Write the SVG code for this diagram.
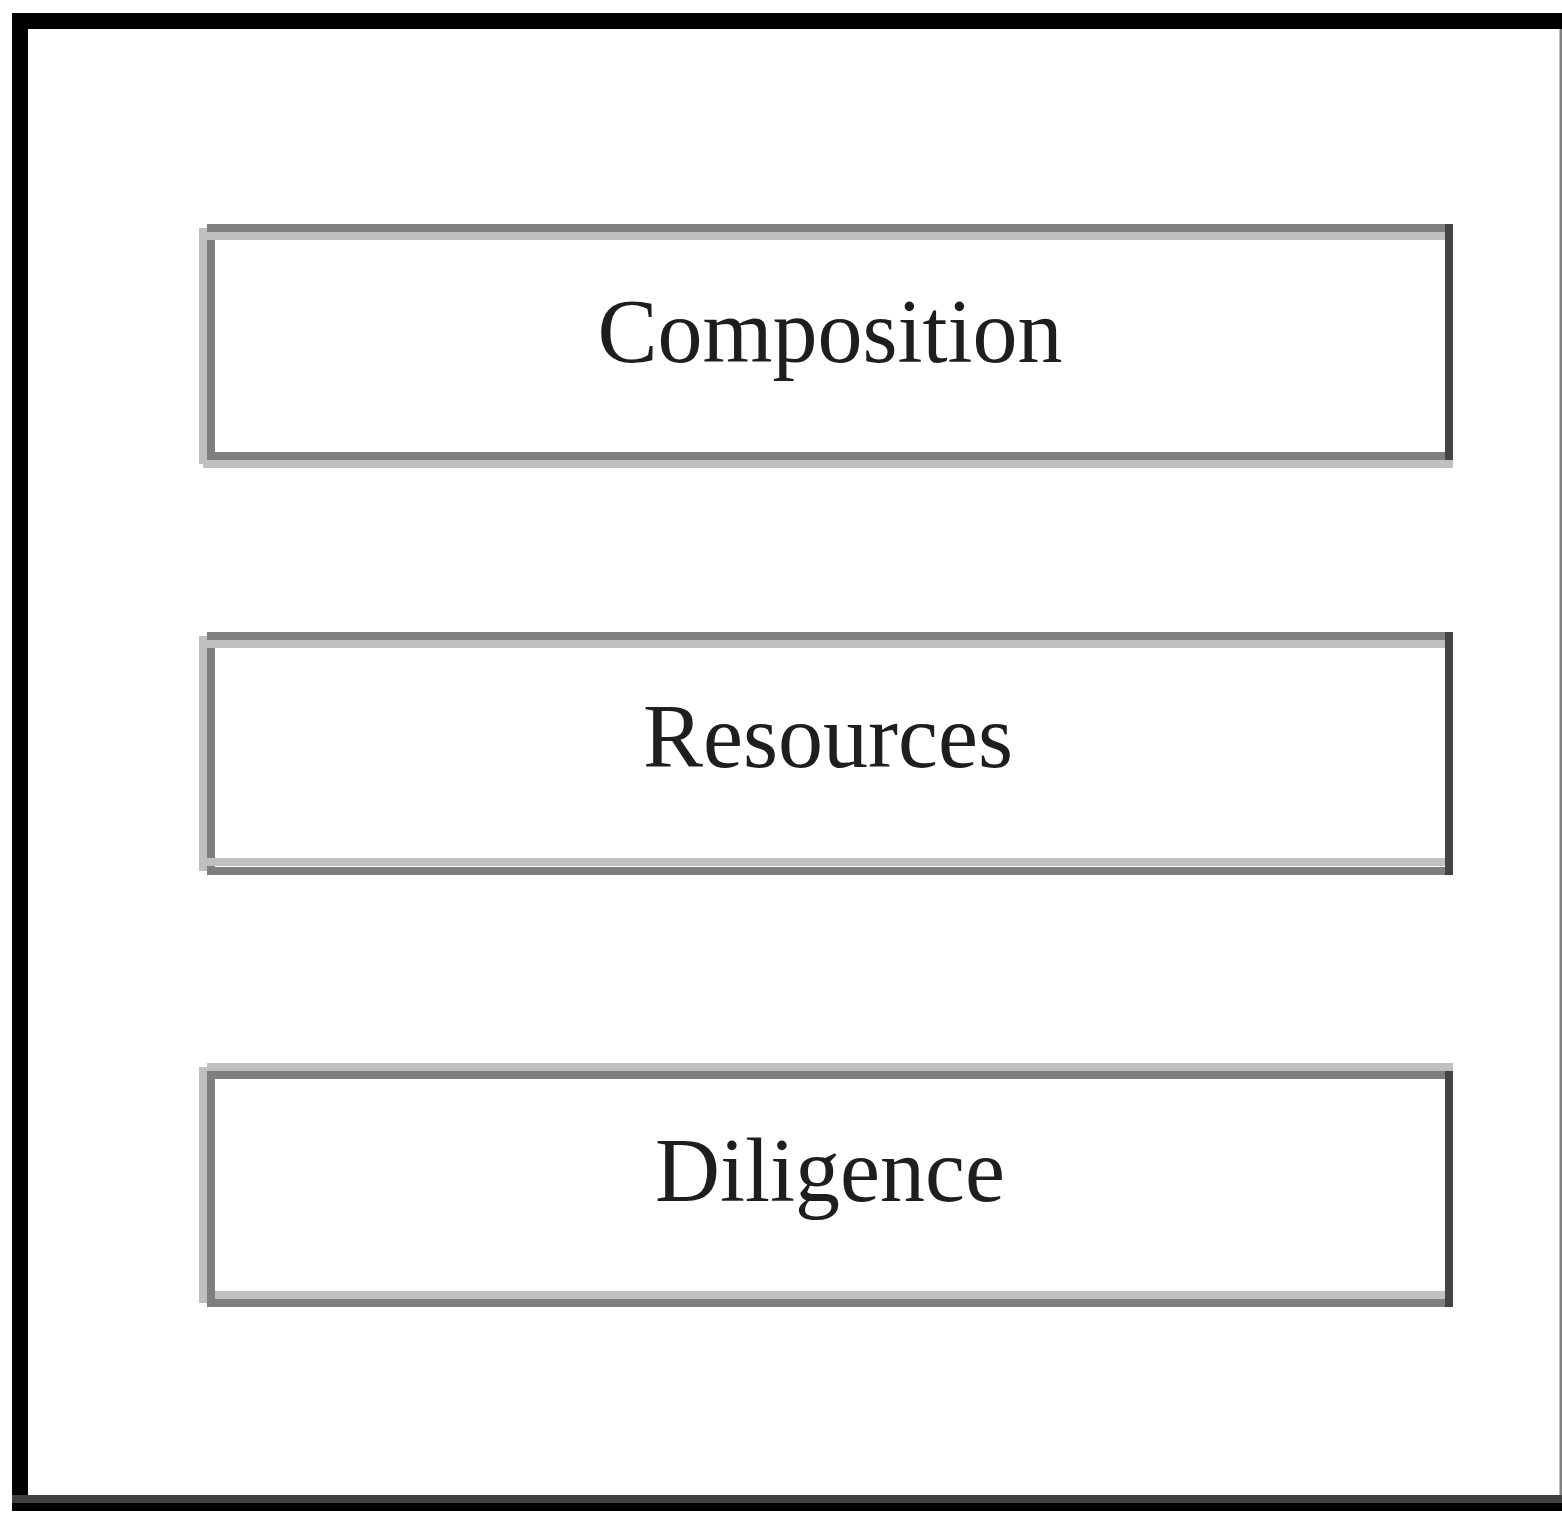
<svg xmlns="http://www.w3.org/2000/svg" width="1562" height="1513" viewBox="0 0 1562 1513">
  <style>
    .frame { stroke: #000; stroke-width: 16; fill: none; }
    .box { fill: #fff; stroke: #7f7f7f; stroke-width: 8; }
    .hl { stroke: #c0c0c0; stroke-width: 8; fill: none; }
    .rt { stroke: #444; stroke-width: 8; fill: none; }
    .lbl { font-family: "Liberation Serif", "Times New Roman", serif; font-size: 90px; fill: #1e1e1e; text-anchor: middle; }
  </style>
  <rect x="0" y="0" width="1562" height="1513" fill="#fff"/>
  <g id="frame">
    <line class="frame" x1="20" y1="13" x2="20" y2="1511"/>
    <line class="frame" x1="12" y1="21" x2="1562" y2="21"/>
    <line x1="12" y1="1499" x2="1562" y2="1499" stroke="#404040" stroke-width="8"/>
    <line x1="12" y1="1507" x2="1562" y2="1507" stroke="#000" stroke-width="8"/>
    <line x1="1561" y1="29" x2="1561" y2="1495" stroke="#808080" stroke-width="3"/>
  </g>
  <g id="node-composition">
    <rect class="box" x="211" y="228" width="1238" height="228"/>
    <line class="hl" x1="207" y1="236" x2="1453" y2="236"/>
    <line class="hl" x1="203" y1="464" x2="1453" y2="464"/>
    <line class="hl" x1="203" y1="228" x2="203" y2="464"/>
    <line class="rt" x1="1449" y1="224" x2="1449" y2="460"/>
    <text class="lbl" x="830" y="362">Composition</text>
  </g>
  <g id="node-resources">
    <rect class="box" x="211" y="636" width="1238" height="235"/>
    <line class="hl" x1="207" y1="644" x2="1453" y2="644"/>
    <line class="hl" x1="207" y1="862" x2="1445" y2="862"/>
    <line class="hl" x1="203" y1="636" x2="203" y2="871"/>
    <line class="rt" x1="1449" y1="632" x2="1449" y2="875"/>
    <text class="lbl" x="828" y="767">Resources</text>
  </g>
  <g id="node-diligence">
    <rect class="box" x="211" y="1075" width="1238" height="228"/>
    <line class="hl" x1="207" y1="1067" x2="1453" y2="1067"/>
    <line class="hl" x1="215" y1="1295" x2="1445" y2="1295"/>
    <line class="hl" x1="203" y1="1067" x2="203" y2="1303"/>
    <line class="rt" x1="1449" y1="1071" x2="1449" y2="1307"/>
    <text class="lbl" x="830" y="1201">Diligence</text>
  </g>
  <g id="connectors"></g>
</svg>
